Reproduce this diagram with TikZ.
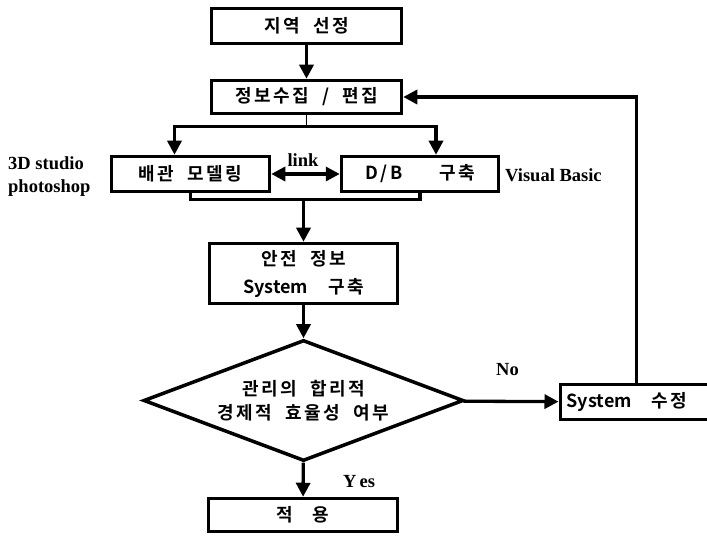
\documentclass[tikz,border=0pt]{standalone}
\usepackage{fontspec}
\setmainfont{Liberation Serif}
\newfontfamily\kr{Noto Sans CJK KR Bold}[LetterSpace=14]
\newfontfamily\krl{Noto Sans CJK KR Bold}
\usetikzlibrary{arrows.meta,shapes.geometric}
\begin{document}
\begin{tikzpicture}[x=1pt,y=-1pt,
  box/.style={draw, line width=3.5pt, inner sep=0pt, align=center,
    font=\kr\fontsize{18}{28}\selectfont},
  conn/.style={line width=3.3pt, -{Triangle[length=14pt,width=14pt]}},
  plain/.style={line width=3.3pt},
  lbl/.style={font=\bfseries\fontsize{18.5}{20}\selectfont, inner sep=0pt}]
\clip (0,0) rectangle (707,537);
\node[box, minimum width=190pt, minimum height=35pt] (b1) at (306.5,26) {지역\ \ 선정};
\node[box, minimum width=190pt, minimum height=33pt] (b2) at (306.5,97) {정보수집\ \ /\ \ 편집};
\node[box, minimum width=158pt, minimum height=35pt] (b3) at (190.5,174) {배관\ \ 모델링};
\node[box, minimum width=157pt, minimum height=35pt] (b4) at (420,174) {{\krl D\,/\,B}\qquad 구축};
\node[box, minimum width=188pt, minimum height=60pt] (b5) at (303.5,273.5) {안전\ \ 정보\\{\krl System}\ \ \ 구축};
\node[draw, shape=diamond, aspect=2.6, line width=3.5pt, inner sep=0pt,
  minimum width=320pt, minimum height=121pt, align=center,
  font=\kr\fontsize{18}{24}\selectfont] (d) at (303.5,400.5) {관리의\ \ 합리적\\경제적\ \ 효율성\ \ 여부};
\node[box, minimum width=189pt, minimum height=33pt] (b6) at (303,515) {적\ \ \ 용};
\node[box, minimum width=160pt, minimum height=35pt, anchor=west] (b7) at (558.5,402) {{\krl System}\ \ \ 수정\ \ \ \ };
% labels
\node[lbl, anchor=base west] (l1) at (8,170) {3D studio};
\node[lbl, anchor=base west] (l2) at (8,193) {photoshop};
\node[lbl, anchor=base west] (l3) at (505,182) {Visual Basic};
\node[lbl, anchor=base] (l4) at (303,167) {link};
\node[lbl, anchor=base west] (l5) at (496,375) {No};
\node[lbl, anchor=base west] (l6) at (343,487) {Y\,es};
% connectors
\draw[conn] (b1) -- (b2);
\draw[line width=1.2pt] (b2.south) -- ++(0,11) coordinate (br);
\draw[conn] (br) -| ([xshift=-16pt]b3.north);
\draw[conn] (br) -| ([xshift=16pt]b4.north);
\draw[plain, {Triangle[length=14pt,width=14pt]}-{Triangle[length=14pt,width=14pt]}] (b3) -- (b4);
\draw[plain] (b3.south) -- ++(0,6) coordinate (bl) -| (b4.south);
\draw[conn] (bl -| b5.north) -- (b5.north);
\draw[conn] (b5) -- (d);
\draw[conn] (d) -- (b6);
\draw[conn] (d) -- (b7);
\draw[conn] ([xshift=78pt]b7.north west) |- (b2.east);
\end{tikzpicture}
\end{document}
